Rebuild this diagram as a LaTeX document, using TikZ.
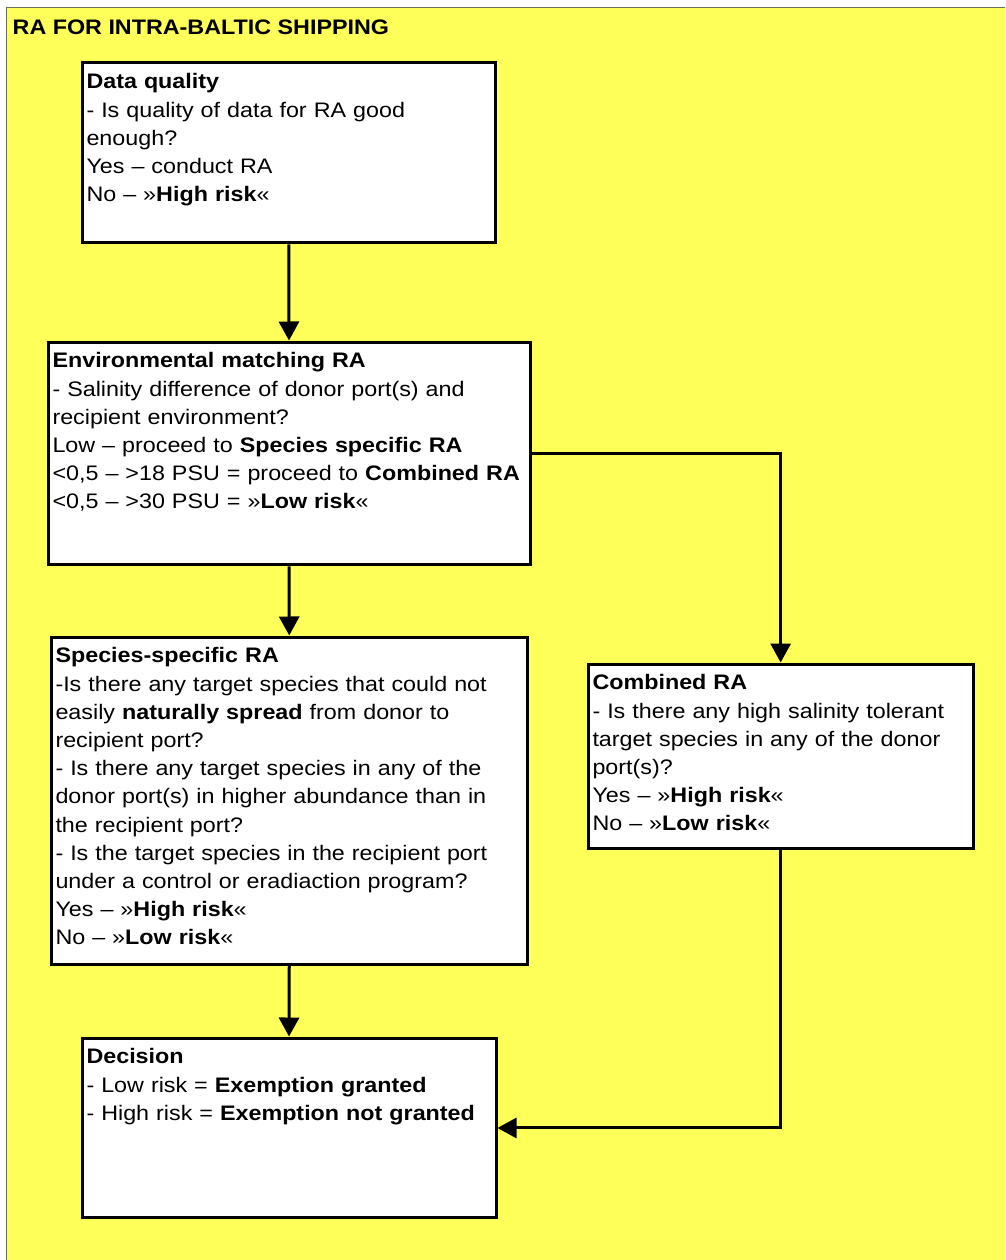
\documentclass[tikz,border=0pt]{standalone}
\usepackage{fontspec}
\setmainfont{Liberation Sans}[FakeStretch=1.11]
\usetikzlibrary{arrows.meta}
\definecolor{panelyellow}{RGB}{255,255,90}
\definecolor{panelrim}{RGB}{110,110,90}
\tikzset{
  rabox/.style={draw, line width=3pt, fill=white, anchor=north west, align=left,
    inner xsep=4.5pt, inner ysep=10.7pt, font=\fontsize{21}{28.2}\selectfont},
  flow/.style={line width=3pt, -{Triangle[length=19pt,width=20pt]}}
}
\begin{document}
\begin{tikzpicture}[x=1pt,y=-1pt]
\useasboundingbox (0,0) rectangle (1005,1260);
\clip (0,0) rectangle (1005,1260);
\fill[panelyellow] (6.5,7.5) rectangle (1010,1265);
\draw[panelrim, line width=1.5pt] (6.5,1265) -- (6.5,7.5) -- (1010,7.5);
\node[anchor=base west, inner sep=0pt, font=\fontsize{21}{25}\selectfont\bfseries] (title) at (12.5,35) {RA FOR INTRA-BALTIC SHIPPING};
\node[rabox, text width=404.5pt, text depth=143.3pt] (quality) at (80.5,61.5)
  {\textbf{Data quality}\\- Is quality of data for RA good\\enough?\\Yes – conduct RA\\No – »\textbf{High risk}«};
\node[rabox, text width=473pt, text depth=186.3pt] (envmatch) at (46.5,340.5)
  {\textbf{Environmental matching RA}\\- Salinity difference of donor port(s) and\\recipient environment?\\Low – proceed to \textbf{Species specific RA}\\<0,5 – >18 PSU = proceed to \textbf{Combined RA}\\<0,5 – >30 PSU = »\textbf{Low risk}«};
\node[rabox, text width=467.5pt, text depth=291pt] (species) at (49.5,635.5)
  {\textbf{Species-specific RA}\\-Is there any target species that could not\\easily \textbf{naturally spread} from donor to\\recipient port?\\- Is there any target species in any of the\\donor port(s) in higher abundance than in\\the recipient port?\\- Is the target species in the recipient port\\under a control or eradiaction program?\\Yes – »\textbf{High risk}«\\No – »\textbf{Low risk}«};
\node[rabox, text width=376.3pt, text depth=147.6pt] (combined) at (586.5,662.5)
  {\textbf{Combined RA}\\- Is there any high salinity tolerant\\target species in any of the donor\\port(s)?\\Yes – »\textbf{High risk}«\\No – »\textbf{Low risk}«};
\node[rabox, text width=405pt, text depth=143.3pt] (decision) at (80.5,1036.5)
  {\textbf{Decision}\\- Low risk = \textbf{Exemption granted}\\- High risk = \textbf{Exemption not granted}};
\draw[flow] (quality.south) -- (envmatch.north);
\draw[flow] (envmatch.south) -- (species.north);
\draw[flow] (species.south) -- (decision.north);
\draw[flow] (envmatch.east) -| (combined.north);
\draw[flow] (combined.south) |- (decision.east);
\end{tikzpicture}
\end{document}
